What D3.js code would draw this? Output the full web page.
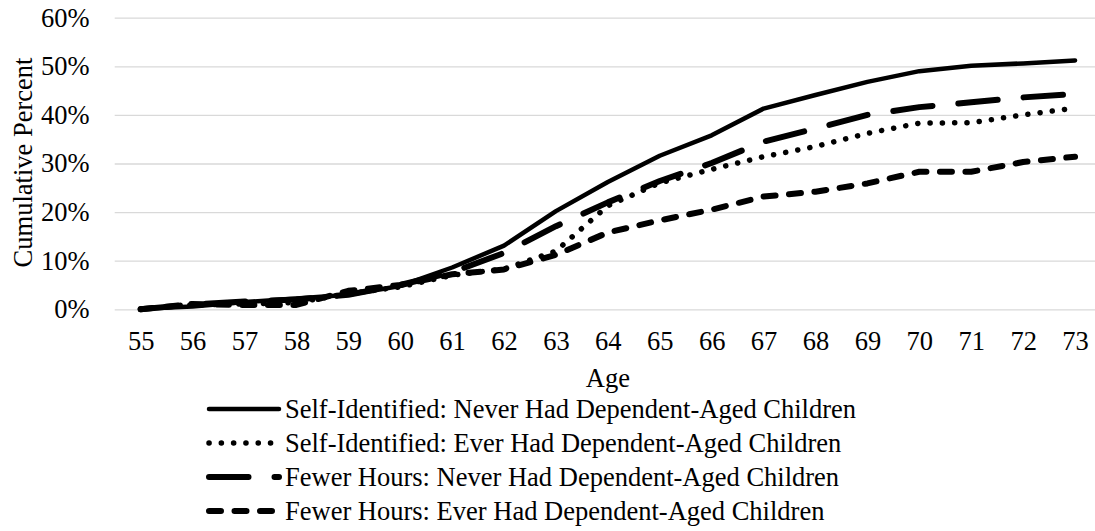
<!DOCTYPE html>
<html>
<head>
<meta charset="utf-8">
<script src="https://cdn.jsdelivr.net/npm/d3@7"></script>
<style>
  body { margin: 0; background: #fff; }
  svg text { font-family: "Liberation Serif", "Times New Roman", serif; fill: #000; }
</style>
</head>
<body>
<svg id="chart" width="1095" height="531"></svg>
<script>
// data (percent)
const ages = [55, 56, 57, 58, 59, 60, 61, 62, 63, 64, 65, 66, 67, 68, 69, 70, 71, 72, 73];
const yTicks = [0, 10, 20, 30, 40, 50, 60];

const selfNever = [0.1, 0.6, 1.5, 2.2, 3.0, 4.8, 8.6, 13.1, 20.2, 26.2, 31.6, 35.8, 41.3, 44.1, 46.8, 49.0, 50.1, 50.6, 51.2];
const selfEver = [0, 0.9, 1.1, 1.4, 3.2, 4.6, 7.0, 8.3, 12.0, 21.3, 26.0, 28.8, 31.4, 33.5, 36.2, 38.3, 38.4, 40.0, 41.4];
const fewerNever = [0, 1.0, 1.6, 2.0, 3.0, 5.0, 7.6, 11.6, 17.1, 22.0, 26.4, 30.1, 34.5, 37.2, 40.0, 41.6, 42.6, 43.6, 44.3];
const fewerEver = [0, 1.1, 0.9, 0.9, 3.8, 5.0, 7.2, 8.2, 11.2, 15.8, 18.3, 20.5, 23.2, 24.2, 25.9, 28.3, 28.3, 30.3, 31.4];

const seriesNames = [
  "Self-Identified: Never Had Dependent-Aged Children",
  "Self-Identified: Ever Had Dependent-Aged Children",
  "Fewer Hours: Never Had Dependent-Aged Children",
  "Fewer Hours: Ever Had Dependent-Aged Children",
];

// line styles, one per series
const styles = [
  { width: 4.5, dash: null },
  { width: 5.5, dash: "0.1,12.2" },
  { width: 6, dash: "39.5,26" },
  { width: 6, dash: "12,13.5" },
];

const series = [selfNever, selfEver, fewerNever, fewerEver].map((values, i) => ({
  name: seriesNames[i],
  values: values.map((v, j) => ({ age: ages[j], v })),
  style: styles[i],
}));

const fontSize = 26.5;
const plotLeft = 114.7, plotRight = 1101, plotTop = 17.7, plotBottom = 309.3;

const svg = d3.select("#chart");

const x = d3.scalePoint().domain(ages).range([plotLeft, plotRight]).padding(0.5);
const y = d3.scaleLinear().domain([0, 60]).range([plotBottom, plotTop]);

// gridlines + y labels
const yAxis = d3.axisLeft(y)
  .tickValues(yTicks)
  .tickFormat((d) => d + "%")
  .tickSize(-(plotRight - plotLeft))
  .tickPadding(25);

svg.append("g")
  .attr("class", "y-axis")
  .attr("transform", `translate(${plotLeft},0)`)
  .call(yAxis)
  .call((g) => g.select(".domain").remove())
  .call((g) => g.selectAll(".tick line").attr("stroke", "#d9d9d9").attr("stroke-width", 1.3))
  .call((g) => g.selectAll(".tick text").attr("font-size", fontSize).attr("fill", "#000")
    .attr("font-family", "Liberation Serif, Times New Roman, serif"));

// x labels
const xAxis = d3.axisBottom(x).tickSize(0).tickPadding(22);
svg.append("g")
  .attr("class", "x-axis")
  .attr("transform", `translate(0,${plotBottom})`)
  .call(xAxis)
  .call((g) => g.select(".domain").remove())
  .call((g) => g.selectAll(".tick text").attr("font-size", fontSize).attr("fill", "#000")
    .attr("font-family", "Liberation Serif, Times New Roman, serif"));

// axis titles
svg.append("text")
  .attr("text-anchor", "middle")
  .attr("font-size", fontSize)
  .attr("transform", "translate(22.5,162.5) rotate(-90)")
  .attr("dy", "0.35em")
  .text("Cumulative Percent");

svg.append("text")
  .attr("text-anchor", "middle")
  .attr("font-size", fontSize)
  .attr("x", (plotLeft + plotRight) / 2)
  .attr("y", 387)
  .text("Age");

// lines
const line = d3.line().x((d) => x(d.age)).y((d) => y(d.v));

svg.selectAll(".series")
  .data(series)
  .join("path")
  .attr("class", "series")
  .attr("d", (d) => line(d.values))
  .attr("fill", "none")
  .attr("stroke", "#000")
  .attr("stroke-width", (d) => d.style.width)
  .attr("stroke-linecap", "round")
  .attr("stroke-linejoin", "round")
  .attr("stroke-dasharray", (d) => d.style.dash);

// legend
const legend = svg.append("g")
  .selectAll("g")
  .data(series)
  .join("g")
  .attr("transform", (d, i) => `translate(0,${409 + i * 34})`);

legend.append("line")
  .attr("x1", 209)
  .attr("x2", 279)
  .attr("stroke", "#000")
  .attr("stroke-width", (d) => d.style.width)
  .attr("stroke-linecap", "round")
  .attr("stroke-dasharray", (d) => d.style.dash);

legend.append("text")
  .attr("x", 285)
  .attr("dy", "0.35em")
  .attr("font-size", fontSize)
  .text((d) => d.name);
</script>
</body>
</html>
